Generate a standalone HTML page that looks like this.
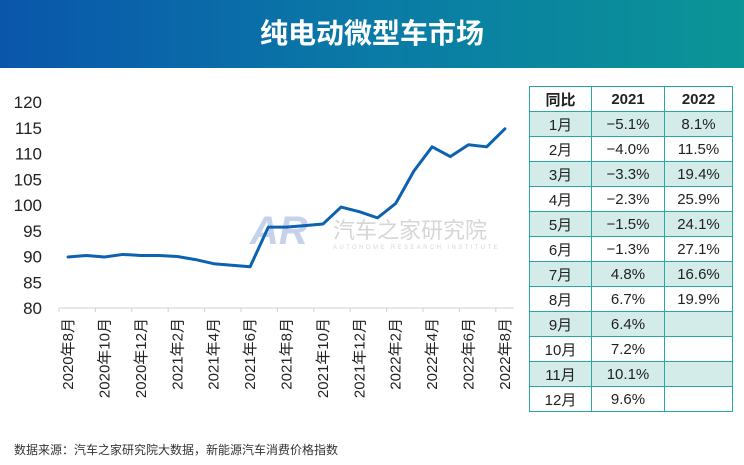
<!DOCTYPE html>
<html><head><meta charset="utf-8"><style>
body{margin:0;width:744px;height:465px;background:#fff;font-family:"Liberation Sans","Noto Sans CJK SC",sans-serif;position:relative;overflow:hidden}
#hdr{position:absolute;left:0;top:0;width:744px;height:68px;background:linear-gradient(90deg,#0a56ab,#0a7aa6 50%,#0b9596);color:#fff;font-size:28px;font-weight:bold;text-align:center;line-height:68px}
table{position:absolute;left:529px;top:86px;border-collapse:collapse;font-size:15px;color:#222;font-family:"Liberation Sans","Noto Sans CJK SC",sans-serif}
tr{height:25px}
td{border:1.5px solid #2aa79e;padding:0;text-align:center;font-family:"Liberation Sans","Noto Sans CJK SC",sans-serif}
tr.s td{background:#d3ebe9}
td.c0{width:61px}td.c1{width:72px}td.c2{width:67px}
#src{position:absolute;left:14px;top:441px;font-size:12px;color:#333}
</style></head><body>
<div id="hdr">纯电动微型车市场</div>
<svg id="ch" width="525" height="430" style="position:absolute;left:0;top:0"></svg>
<table>
<tr><td class="c0"><b>同比</b></td><td class="c1"><b>2021</b></td><td class="c2"><b>2022</b></td></tr>
<tr class="s"><td>1月</td><td>−5.1%</td><td>8.1%</td></tr>
<tr><td>2月</td><td>−4.0%</td><td>11.5%</td></tr>
<tr class="s"><td>3月</td><td>−3.3%</td><td>19.4%</td></tr>
<tr><td>4月</td><td>−2.3%</td><td>25.9%</td></tr>
<tr class="s"><td>5月</td><td>−1.5%</td><td>24.1%</td></tr>
<tr><td>6月</td><td>−1.3%</td><td>27.1%</td></tr>
<tr class="s"><td>7月</td><td>4.8%</td><td>16.6%</td></tr>
<tr><td>8月</td><td>6.7%</td><td>19.9%</td></tr>
<tr class="s"><td>9月</td><td>6.4%</td><td></td></tr>
<tr><td>10月</td><td>7.2%</td><td></td></tr>
<tr class="s"><td>11月</td><td>10.1%</td><td></td></tr>
<tr><td>12月</td><td>9.6%</td><td></td></tr>
</table>
<div id="src">数据来源：汽车之家研究院大数据，新能源汽车消费价格指数</div>
<script>
const categories=["2020年8月","2020年9月","2020年10月","2020年11月","2020年12月","2021年1月","2021年2月","2021年3月","2021年4月","2021年5月","2021年6月","2021年7月","2021年8月","2021年9月","2021年10月","2021年11月","2021年12月","2022年1月","2022年2月","2022年3月","2022年4月","2022年5月","2022年6月","2022年7月","2022年8月"];
const values=[89.9,90.2,89.9,90.4,90.2,90.2,90.0,89.4,88.6,88.3,88.0,95.7,95.7,96.0,96.3,99.6,98.7,97.5,100.3,106.6,111.3,109.4,111.7,111.3,114.8];
const yTicks=[80,85,90,95,100,105,110,115,120];
const svg=document.getElementById('ch');const NS='http://www.w3.org/2000/svg';
const x0=59,x1=514,yBase=308,yMin=80,yMax=120,yTop=102;
const bw=(x1-x0)/categories.length;
const X=i=>x0+(i+0.5)*bw;
const Y=v=>yBase-(v-yMin)/(yMax-yMin)*(yBase-yTop);
function mk(t,a){const e=document.createElementNS(NS,t);for(const k in a)e.setAttribute(k,a[k]);svg.appendChild(e);return e;}
let w=mk('text',{x:250,y:244,'font-size':40,'font-weight':'bold',fill:'#c5d2ea','font-style':'italic'});w.textContent='AR';


let w2=mk('text',{x:333,y:238,'font-size':22,fill:'#d6d6d6'});w2.textContent='汽车之家研究院';


let w3=mk('text',{x:333,y:249,'font-size':6,fill:'#d6d6d6','letter-spacing':'2.4'});w3.textContent='AUTOHOME RESEARCH INSTITUTE';


yTicks.forEach(v=>{const t=mk('text',{x:42,y:Y(v)+6,'font-size':17,fill:'#222','text-anchor':'end'});t.textContent=v;

});
const ax=mk('line',{x1:x0,x2:x1,y1:yBase,y2:yBase,stroke:'#d0d0d0','stroke-width':1});


for(let i=0;i<=categories.length;i+=2){const tk=mk('line',{x1:x0+i*bw,x2:x0+i*bw,y1:yBase,y2:yBase+4,stroke:'#d0d0d0'});

}
categories.forEach((c,i)=>{if(i%2)return;const t=mk('text',{transform:`translate(${X(i)+5},${yBase+10}) rotate(-90)`,'font-size':15,fill:'#222','text-anchor':'end'});t.textContent=c;

});
const ln=mk('polyline',{points:values.map((v,i)=>X(i)+','+Y(v)).join(' '),fill:'none',stroke:'#0c62b0','stroke-width':3,'stroke-linejoin':'round','stroke-linecap':'round'});


</script>
</body></html>
